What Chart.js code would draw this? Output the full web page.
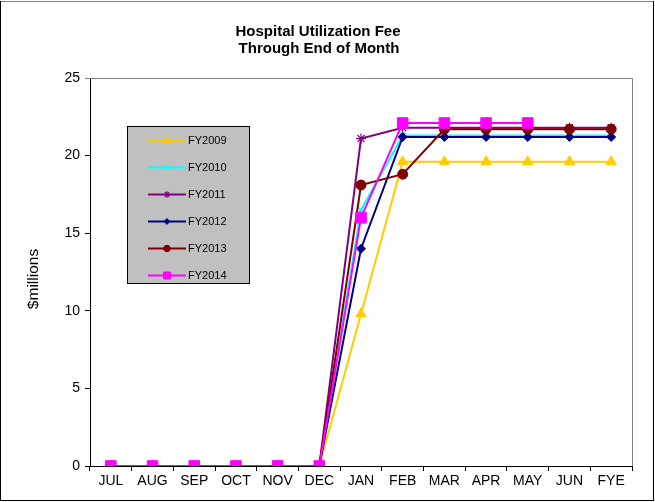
<!DOCTYPE html>
<html>
<head>
<meta charset="utf-8">
<title>Hospital Utilization Fee</title>
<script src="https://cdn.jsdelivr.net/npm/chart.js@4.4.1/dist/chart.umd.min.js"></script>
<style>
  html, body { margin: 0; padding: 0; background: #ffffff; }
  #wrap { width: 655px; height: 502px; position: relative; }
  canvas { display: block; }
</style>
</head>
<body>
<div id="wrap"><canvas id="chart" width="655" height="502"></canvas></div>
<script>
// Fiscal-year months, July through fiscal year end
const months = ['JUL', 'AUG', 'SEP', 'OCT', 'NOV', 'DEC', 'JAN', 'FEB', 'MAR', 'APR', 'MAY', 'JUN', 'FYE'];

// Cumulative fee collected, $ millions
const fy2009 = [0, 0, 0, 0, 0, 0, 9.8, 19.6, 19.6, 19.6, 19.6, 19.6, 19.6];
const fy2010 = [0, 0, 0, 0, 0, 0, 16.5, 21.3, 21.3, 21.3, 21.3, 21.3, 21.3];
const fy2011 = [0, 0, 0, 0, 0, 0, 21.1, 21.8, 21.8, 21.8, 21.8, 21.8, 21.8];
const fy2012 = [0, 0, 0, 0, 0, 0, 14.0, 21.2, 21.2, 21.2, 21.2, 21.2, 21.2];
const fy2013 = [0, 0, 0, 0, 0, 0, 18.1, 18.8, 21.7, 21.7, 21.7, 21.7, 21.7];
const fy2014 = [0, 0, 0, 0, 0, 0, 16.0, 22.1, 22.1, 22.1, 22.1, null, null];

const seriesNames = ['FY2009', 'FY2010', 'FY2011', 'FY2012', 'FY2013', 'FY2014'];
const yTicks = [0, 5, 10, 15, 20, 25];

const FONT = '"Liberation Sans", Arial, Helvetica, sans-serif';

function series(label, data, color, style, radius, order, borderW) {
  return {
    label, data, order,
    borderColor: color,
    backgroundColor: color,
    borderWidth: 2,
    pointStyle: style,
    pointRadius: radius,
    pointHoverRadius: radius,
    pointBackgroundColor: color,
    pointBorderColor: color,
    pointBorderWidth: borderW,
    tension: 0,
    spanGaps: false
  };
}

const datasets = [
  series(seriesNames[0], fy2009, '#FFCC00', 'triangle', 6, 5, 1),
  series(seriesNames[1], fy2010, '#00FFFF', 'crossRot', 4.5, 4, 1.5),
  series(seriesNames[2], fy2011, '#800080', 'star', 5, 3, 1.2),
  series(seriesNames[3], fy2012, '#000080', 'rectRot', 4.5, 2, 1),
  series(seriesNames[4], fy2013, '#800000', 'circle', 5, 1, 1),
  series(seriesNames[5], fy2014, '#FF00FF', 'rect', 7.5, 0, 1)
];

// Title, frame, plot border, axis title and boxed legend
const decorations = {
  id: 'decorations',
  afterDraw(chart) {
    const ctx = chart.ctx;
    const a = chart.chartArea;
    ctx.save();

    // outer frame
    ctx.lineWidth = 1;
    ctx.strokeStyle = '#808080';
    ctx.beginPath(); ctx.moveTo(0, 1.5); ctx.lineTo(654, 1.5); ctx.stroke();
    ctx.strokeStyle = '#000000';
    ctx.beginPath();
    ctx.moveTo(0.5, 1); ctx.lineTo(0.5, 501);
    ctx.moveTo(653.5, 1); ctx.lineTo(653.5, 501);
    ctx.moveTo(0, 500.5); ctx.lineTo(654, 500.5);
    ctx.stroke();

    // plot area top and right edges
    ctx.strokeStyle = '#808080';
    ctx.beginPath();
    ctx.moveTo(a.left, Math.round(a.top) + 0.5);
    ctx.lineTo(Math.round(a.right) + 0.5, Math.round(a.top) + 0.5);
    ctx.lineTo(Math.round(a.right) + 0.5, a.bottom);
    ctx.stroke();

    // title
    ctx.fillStyle = '#000000';
    ctx.font = 'bold 15px ' + FONT;
    ctx.textAlign = 'center';
    ctx.textBaseline = 'alphabetic';
    ctx.fillText('Hospital Utilization Fee', 318, 36);
    ctx.fillText('Through End of Month', 319, 53);

    // value axis title
    ctx.save();
    ctx.translate(34, 279);
    ctx.rotate(-Math.PI / 2);
    ctx.font = '15.5px ' + FONT;
    ctx.textBaseline = 'middle';
    ctx.fillText('$millions', 0, 0);
    ctx.restore();

    // legend box
    const bx = 127.5, by = 126.5, bw = 122, bh = 157;
    ctx.fillStyle = '#C0C0C0';
    ctx.fillRect(bx, by, bw, bh);
    ctx.strokeStyle = '#000000';
    ctx.lineWidth = 1;
    ctx.strokeRect(bx, by, bw, bh);

    const drawPoint = Chart.helpers && Chart.helpers.drawPoint;
    chart.data.datasets.forEach((ds, i) => {
      const y = 140.5 + i * 27;
      ctx.strokeStyle = ds.borderColor;
      ctx.lineWidth = 2;
      ctx.beginPath(); ctx.moveTo(148, y); ctx.lineTo(186, y); ctx.stroke();
      if (drawPoint) {
        ctx.fillStyle = ds.pointBackgroundColor;
        ctx.strokeStyle = ds.pointBorderColor;
        ctx.lineWidth = ds.pointBorderWidth;
        drawPoint(ctx, {
          pointStyle: ds.pointStyle,
          radius: ds.pointRadius * 0.65,
          rotation: 0,
          borderWidth: ds.pointBorderWidth
        }, 167, y);
      }
      ctx.fillStyle = '#000000';
      ctx.font = '11px ' + FONT;
      ctx.textAlign = 'left';
      ctx.textBaseline = 'middle';
      ctx.fillText(ds.label, 188, y + 0.5);
    });

    ctx.restore();
  }
};

new Chart(document.getElementById('chart'), {
  type: 'line',
  data: { labels: months, datasets },
  options: {
    responsive: false,
    animation: false,
    devicePixelRatio: 1,
    layout: { padding: { top: 78, right: 23, bottom: 0, left: 0 } },
    plugins: {
      legend: { display: false },
      title: { display: false },
      tooltip: { enabled: false }
    },
    scales: {
      x: {
        offset: true,
        afterFit(scale) { scale.height = 36; },
        grid: {
          offset: true,
          drawOnChartArea: false,
          drawTicks: true,
          tickLength: 5,
          color: '#000000'
        },
        border: { color: '#000000', width: 1 },
        ticks: {
          color: '#000000',
          font: { family: FONT, size: 14 },
          padding: 2,
          maxRotation: 0,
          autoSkip: false
        }
      },
      y: {
        min: 0,
        max: 25,
        afterFit(scale) { scale.width = 90; },
        afterBuildTicks(scale) { scale.ticks = yTicks.map(v => ({ value: v })); },
        grid: {
          drawOnChartArea: false,
          drawTicks: true,
          tickLength: 5,
          color: (c) => (c.tick && c.tick.value === 25 ? '#808080' : '#000000')
        },
        border: { color: '#000000', width: 1 },
        ticks: {
          color: '#000000',
          font: { family: FONT, size: 14 },
          padding: 5,
          stepSize: 5
        }
      }
    }
  },
  plugins: [decorations]
});
</script>
</body>
</html>
